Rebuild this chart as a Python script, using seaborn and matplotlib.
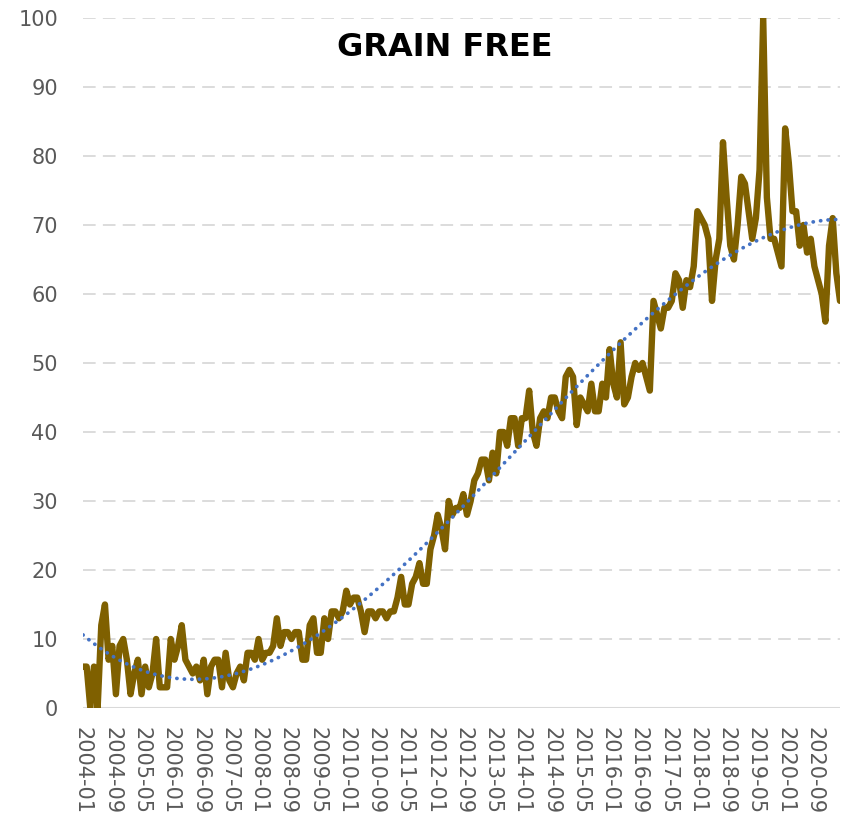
import numpy as np
import pandas as pd
import matplotlib
matplotlib.use("Agg")
import matplotlib.pyplot as plt
import seaborn as sns

# ---- data (Google-Trends style interest, monthly 2004-01 .. 2021-04) ----
months = [d.strftime("%Y-%m") for d in pd.date_range("2004-01-01", periods=208, freq="MS")]
interest = [
    6, 6, 0, 6, 0, 12, 15, 7, 9, 2,
    9, 10, 7, 2, 5, 7, 2, 6, 3, 5,
    10, 3, 3, 3, 10, 7, 9, 12, 7, 6,
    5, 6, 4, 7, 2, 6, 7, 7, 3, 8,
    4, 3, 5, 6, 4, 8, 8, 7, 10, 7,
    8, 8, 9, 13, 9, 11, 11, 10, 11, 11,
    7, 7, 12, 13, 8, 8, 13, 10, 14, 14,
    13, 14, 17, 15, 16, 16, 14, 11, 14, 14,
    13, 14, 14, 13, 14, 14, 16, 19, 15, 15,
    18, 19, 21, 18, 18, 23, 25, 28, 26, 23,
    30, 28, 29, 29, 31, 28, 30, 33, 34, 36,
    36, 33, 37, 34, 40, 40, 38, 42, 42, 38,
    42, 42, 46, 40, 38, 42, 43, 42, 45, 45,
    43, 42, 48, 49, 48, 41, 45, 44, 43, 47,
    43, 43, 47, 45, 52, 47, 45, 53, 44, 45,
    48, 50, 49, 50, 48, 46, 59, 57, 55, 58,
    58, 59, 63, 62, 58, 62, 61, 64, 72, 71,
    70, 68, 59, 65, 68, 82, 74, 67, 65, 70,
    77, 76, 72, 68, 71, 78, 100, 74, 68, 68,
    66, 64, 84, 79, 72, 72, 67, 70, 66, 68,
    64, 62, 60, 56, 67, 71, 63, 59,
]
title_text = "GRAIN FREE"
tick_step = 8
y_ticks = list(range(0, 101, 10))

df = pd.DataFrame({"idx": np.arange(len(months)), "month": months, "value": interest})
# polynomial trendline (as in the spreadsheet chart)
coef = np.polyfit(df["idx"] + 1, df["value"], 3)
df["trend"] = np.polyval(coef, df["idx"] + 1)

sns.set_theme(style="white")
plt.rcParams["font.family"] = ["DejaVu Sans"]

fig = plt.figure(figsize=(8.45, 8.22), dpi=100)
ax = fig.add_axes([83 / 845, (822 - 708) / 822, (840 - 83) / 845, (708 - 18) / 822])

# gridlines
for yv in y_ticks[1:]:
    ax.axhline(yv, color="#D9D9D9", lw=1.3, dashes=(7, 4), zorder=0)
ax.axhline(0, color="#D9D9D9", lw=1.5, zorder=1)

sns.lineplot(data=df, x="idx", y="value", ax=ax, color="#7F6000", lw=4.6,
             solid_joinstyle="round", solid_capstyle="round", zorder=3)
sns.lineplot(data=df, x="idx", y="trend", ax=ax, color="#4472C4", lw=2.7,
             linestyle=(0, (0.05, 1.95)), dash_capstyle="round", zorder=4)

ax.set_xlim(0, len(months) - 1)
ax.set_ylim(0, 100)
ax.set_xticks(df["idx"][::tick_step])
ax.set_xticklabels(df["month"][::tick_step], rotation=-90, fontsize=15, color="#595959")
ax.set_yticks(y_ticks)
ax.set_yticklabels([str(v) for v in y_ticks], fontsize=15, color="#595959")
ax.tick_params(axis="y", length=0, pad=18)
ax.tick_params(axis="x", length=0, pad=14)
ax.set_xlabel("")
ax.set_ylabel("")
for s in ax.spines.values():
    s.set_visible(False)

ax.text(0.478, 0.957, title_text, transform=ax.transAxes, ha="center", va="center",
        fontsize=23, fontweight="bold", color="black")

fig.savefig("out.png", dpi=100)
